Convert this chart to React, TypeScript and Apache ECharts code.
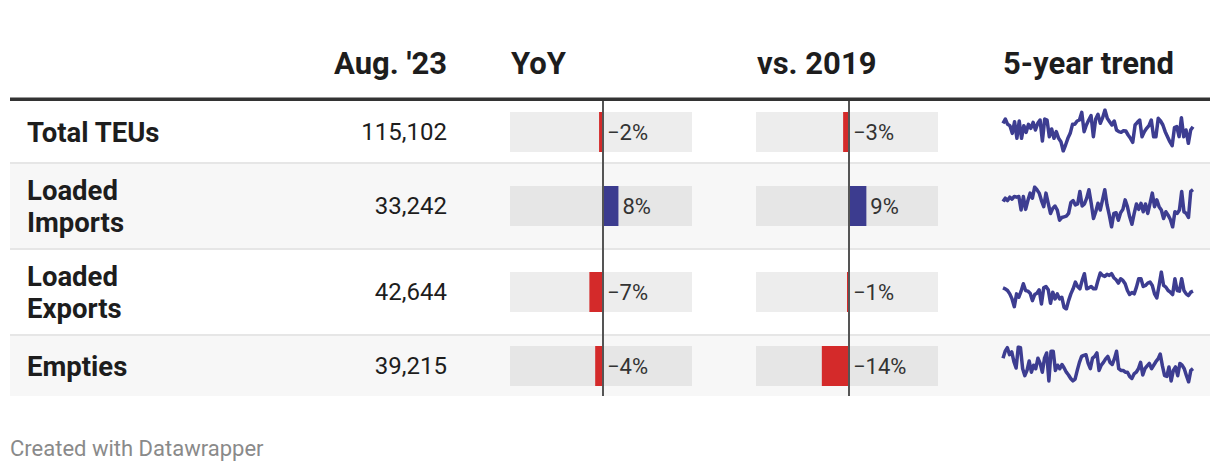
import React, { useEffect, useRef } from 'react';
import * as echarts from 'echarts';

// ---------- data ----------
const headers = ["Aug. '23", 'YoY', 'vs. 2019', '5-year trend'];
const rowLabels = ['Total TEUs', 'Loaded\nImports', 'Loaded\nExports', 'Empties'];
const aug23 = [115102, 33242, 42644, 39215];
const yoy = [-2, 8, -7, -4];
const vs2019 = [-3, 9, -1, -14];
const footer = 'Created with Datawrapper';

const trendTotal = [95, 108, 92, 88, 65, 100, 50, 102, 50, 88, 68, 92, 80, 98, 75, 95, 105, 42, 108, 105, 55, 78, 50, 70, 50, 40, 12, 30, 50, 65, 92, 92, 102, 105, 128, 70, 90, 105, 118, 55, 108, 122, 95, 112, 135, 110, 100, 90, 102, 75, 70, 68, 73, 72, 60, 50, 38, 90, 98, 105, 55, 70, 80, 88, 105, 55, 55, 110, 102, 90, 70, 55, 40, 28, 82, 85, 55, 112, 55, 75, 35, 75, 85];
const trendImports = [85, 95, 88, 98, 92, 100, 98, 100, 60, 100, 62, 88, 110, 95, 128, 120, 110, 88, 70, 110, 80, 50, 65, 72, 60, 30, 38, 40, 42, 50, 82, 88, 75, 78, 115, 72, 78, 95, 120, 80, 35, 55, 80, 60, 90, 120, 75, 45, 10, 50, 52, 30, 52, 62, 90, 70, 40, 18, 50, 78, 62, 80, 55, 78, 50, 80, 110, 70, 90, 70, 60, 35, 55, 45, 32, 10, 55, 50, 60, 115, 55, 50, 38, 115, 120];
const trendExports = [88, 85, 80, 70, 55, 32, 70, 60, 78, 100, 80, 78, 72, 50, 68, 72, 82, 40, 88, 92, 82, 42, 75, 55, 70, 55, 60, 30, 25, 50, 70, 85, 105, 92, 85, 110, 130, 85, 88, 92, 85, 85, 110, 132, 125, 122, 128, 125, 130, 118, 112, 102, 115, 110, 100, 80, 68, 74, 70, 90, 115, 115, 92, 95, 102, 105, 95, 70, 58, 95, 135, 95, 90, 80, 75, 68, 115, 80, 78, 115, 80, 70, 65, 75, 78];
const trendEmpties = [90, 110, 120, 100, 108, 80, 62, 122, 120, 60, 40, 55, 82, 50, 70, 60, 90, 75, 50, 90, 105, 25, 110, 110, 55, 70, 60, 72, 62, 50, 42, 32, 25, 30, 55, 78, 95, 98, 100, 75, 60, 90, 95, 105, 55, 70, 78, 88, 95, 78, 72, 88, 110, 60, 55, 55, 50, 50, 38, 32, 45, 50, 60, 78, 42, 60, 68, 75, 60, 70, 80, 88, 102, 68, 40, 38, 65, 25, 55, 65, 40, 75, 70, 60, 40, 22, 55, 60];
const trends = [trendTotal, trendImports, trendExports, trendEmpties];

// ---------- layout ----------
const FONT = 'Roboto';
const TEXT = '#1d1d1d';
const RED = '#d42a2a';
const BLUE = '#3c3c8f';
const LINE = '#3d3d91';
const rowTops = [101, 164, 250, 336];
const rowHeights = [62, 84, 84, 60];
const rowBg = ['#ffffff', '#f7f7f7', '#ffffff', '#f7f7f7'];
const barBg = ['#ededed', '#e6e6e6', '#ededed', '#e6e6e6'];
const sparkBox = [
  [110, 41],
  [187, 40],
  [272, 37],
  [347, 35],
];
const barCols = [510, 756];
const barColW = 182;
const barMin = -48;
const barMax = 46;
const barH = 40;

const fmtPct = (v: number) => (v < 0 ? '\u2212' : '') + Math.abs(v) + '%';

export default function App() {
  const ref = useRef<HTMLDivElement>(null);
  useEffect(() => {
    if (!ref.current) return;
    const chart = echarts.init(ref.current, null, { renderer: 'svg' });

    const grids: any[] = [];
    const xAxes: any[] = [];
    const yAxes: any[] = [];
    const series: any[] = [];
    const graphics: any[] = [];

    // row backgrounds + separators
    rowTops.forEach((t, i) => {
      graphics.push({ type: 'rect', z: 0, shape: { x: 10, y: t, width: 1200, height: rowHeights[i] }, style: { fill: rowBg[i] } });
      if (i > 0) graphics.push({ type: 'rect', z: 1, shape: { x: 10, y: t - 2, width: 1200, height: 2 }, style: { fill: '#e6e6e6' } });
    });
    // header line
    graphics.push({ type: 'rect', z: 1, shape: { x: 10, y: 97.5, width: 1200, height: 3.5 }, style: { fill: '#333333' } });

    // headers
    const headerY = 63;
    const hFont = `bold 31px ${FONT}`;
    graphics.push({ type: 'text', z: 10, x: 447, y: headerY, style: { text: headers[0], font: hFont, fill: TEXT, align: 'right', verticalAlign: 'middle' } });
    graphics.push({ type: 'text', z: 10, x: 511, y: headerY, style: { text: headers[1], font: hFont, fill: TEXT, align: 'left', verticalAlign: 'middle' } });
    graphics.push({ type: 'text', z: 10, x: 757, y: headerY, style: { text: headers[2], font: hFont, fill: TEXT, align: 'left', verticalAlign: 'middle' } });
    graphics.push({ type: 'text', z: 10, x: 1003, y: headerY, style: { text: headers[3], font: hFont, fill: TEXT, align: 'left', verticalAlign: 'middle' } });

    // row texts
    rowTops.forEach((t, i) => {
      const cy = t + rowHeights[i] / 2;
      graphics.push({ type: 'text', z: 10, x: 27, y: cy, style: { text: rowLabels[i], fontFamily: FONT, fontWeight: 'bold', fontSize: 27.5, lineHeight: 32, fill: TEXT, align: 'left', verticalAlign: 'middle' } });
      graphics.push({ type: 'text', z: 10, x: 447, y: cy, style: { text: aug23[i].toLocaleString('en-US'), fontFamily: FONT, fontSize: 24, fill: TEXT, align: 'right', verticalAlign: 'middle' } });
    });

    // footer
    graphics.push({ type: 'text', z: 10, x: 10, y: 448, style: { text: footer, fontFamily: FONT, fontSize: 22, fill: '#8a8a8a', align: 'left', verticalAlign: 'middle' } });

    // bar cells
    const barData = [yoy, vs2019];
    barCols.forEach((left, c) => {
      rowTops.forEach((t, i) => {
        const v = barData[c][i];
        const cy = t + rowHeights[i] / 2;
        const gi = grids.length;
        grids.push({ left, top: cy - barH / 2, width: barColW, height: barH, containLabel: false });
        xAxes.push({ type: 'value', gridIndex: gi, min: barMin, max: barMax, show: false });
        yAxes.push({ type: 'category', gridIndex: gi, data: [''], show: false });
        series.push({
          type: 'bar', xAxisIndex: gi, yAxisIndex: gi, barWidth: barH, z: 2,
          showBackground: true, backgroundStyle: { color: barBg[i] },
          data: [{ value: v, itemStyle: { color: v < 0 ? RED : BLUE } }],
        });
        series.push({
          type: 'bar', xAxisIndex: gi, yAxisIndex: gi, barWidth: barH, barGap: '-100%', z: 3,
          itemStyle: { color: 'rgba(0,0,0,0)' },
          label: { show: true, position: 'right', distance: 4, formatter: () => fmtPct(v), fontFamily: FONT, fontSize: 22, color: '#333333' },
          data: [Math.max(v, 0)],
        });
      });
      // zero line across the whole body
      const gi = grids.length;
      grids.push({ left, top: 101, width: barColW, height: 295 });
      xAxes.push({ type: 'value', gridIndex: gi, min: barMin, max: barMax, show: false });
      yAxes.push({ type: 'value', gridIndex: gi, min: 0, max: 1, show: false });
      series.push({
        type: 'line', xAxisIndex: gi, yAxisIndex: gi, z: 6, data: [], symbol: 'none',
        markLine: { silent: true, symbol: 'none', label: { show: false }, lineStyle: { color: '#555555', width: 2, type: 'solid' }, data: [{ xAxis: 0 }] },
      });
    });

    // sparklines
    trends.forEach((d, i) => {
      const gi = grids.length;
      grids.push({ left: 1003, top: sparkBox[i][0], width: 190, height: sparkBox[i][1] });
      xAxes.push({ type: 'category', gridIndex: gi, boundaryGap: false, data: d.map((_, k) => k), show: false });
      yAxes.push({ type: 'value', gridIndex: gi, min: 'dataMin', max: 'dataMax', show: false });
      series.push({ type: 'line', xAxisIndex: gi, yAxisIndex: gi, z: 4, data: d, symbol: 'none', lineStyle: { color: LINE, width: 3.5, join: 'round' } });
    });

    chart.setOption({
      animation: false,
      grid: grids,
      xAxis: xAxes,
      yAxis: yAxes,
      series,
      graphic: { elements: graphics },
    });
    return () => chart.dispose();
  }, []);

  return <div ref={ref} style={{ position: 'fixed', left: 0, top: 0, width: 1220, height: 472, background: '#ffffff' }} />;
}
